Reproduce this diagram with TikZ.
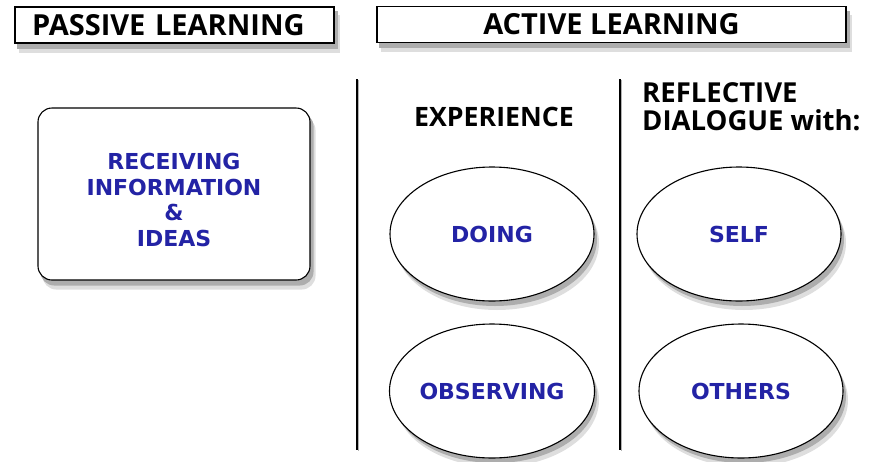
\documentclass[tikz,border=0pt]{standalone}
\usepackage{fontspec}
\setmainfont{Open Sans}
\newfontfamily\bluefont{DejaVu Sans}
\usetikzlibrary{shapes.geometric,backgrounds}
\definecolor{blueT}{RGB}{35,35,165}
\begin{document}
\begin{tikzpicture}[x=1pt,y=-1pt,
  hdr/.style={draw=black,line width=1.1pt,fill=white,inner xsep=17pt,inner ysep=0pt,
    minimum height=36pt,font=\fontsize{29}{30}\selectfont\bfseries},
  lbl/.style={font=\fontsize{26.7}{28}\selectfont\bfseries,inner sep=0pt},
  bluetxt/.style={text=blueT,font=\bluefont\fontsize{22}{25.5}\selectfont\bfseries},
  oval/.style={ellipse,draw=black,line width=1.1pt,fill=white,bluetxt,
    minimum width=204pt,minimum height=134pt,inner sep=0pt},
  divider/.style={line width=1.6pt,black},
  shadowfar/.style={fill=black!13},
  shadownear/.style={fill=black!32}
]
\useasboundingbox (0,0) rectangle (873,461);
\node[hdr,text width=285pt,align=left] (passive) at (174.5,25) {PASSIVE LEARNING};
\node[hdr,minimum width=469pt,inner xsep=0pt] (active) at (611.5,24.5) {ACTIVE LEARNING};
\node[draw=black,line width=1.1pt,fill=white,rounded corners=14pt,
  minimum width=272pt,minimum height=172pt,bluetxt,align=center] (recv) at (174,194)
  {\rule{0pt}{28pt}RECEIVING\\INFORMATION\\\&\\IDEAS};
\node[lbl] (exp) at (494,117) {EXPERIENCE};
\node[lbl,anchor=north west,align=left,font=\fontsize{27.5}{28}\selectfont\bfseries] (refl) at (642,82)
  {REFLECTIVE\\DIALOGUE with:};
\node[oval] (doing) at (492,234) {DOING};
\node[oval] (self) at (739,234) {SELF};
\node[oval] (obs) at (492,391) {OBSERVING};
\node[oval] (others) at (741,391) {OTHERS};
\coordinate (d1t) at (357,79);
\coordinate (d1b) at (357,450);
\coordinate (d2t) at (620,79);
\coordinate (d2b) at (620,450);
\begin{scope}[on background layer]
  \foreach \dx/\dy/\st in {5/9/shadowfar,3/5/shadownear}{
    \fill[\st] ([xshift=\dx pt,yshift=-\dy pt]passive.north west) rectangle ([xshift=\dx pt,yshift=-\dy pt]passive.south east);
    \fill[\st] ([xshift=\dx pt,yshift=-\dy pt]active.north west) rectangle ([xshift=\dx pt,yshift=-\dy pt]active.south east);
    \fill[\st,rounded corners=14pt] ([xshift=\dx pt,yshift=-\dy pt]recv.north west) rectangle ([xshift=\dx pt,yshift=-\dy pt]recv.south east);
    \foreach \n in {doing,self,obs,others}
      \fill[\st] ([xshift=\dx pt,yshift=-\dy pt]\n.center) ellipse [x radius=102pt,y radius=67pt];
  }
  \draw[line width=1.6pt,black!30] ([xshift=1.6pt,yshift=-1pt]d1t) -- ([xshift=1.6pt,yshift=-1pt]d1b);
  \draw[line width=1.6pt,black!30] ([xshift=1.6pt,yshift=-1pt]d2t) -- ([xshift=1.6pt,yshift=-1pt]d2b);
\end{scope}
\draw[divider] (d1t) -- (d1b);
\draw[divider] (d2t) -- (d2b);
\end{tikzpicture}
\end{document}
